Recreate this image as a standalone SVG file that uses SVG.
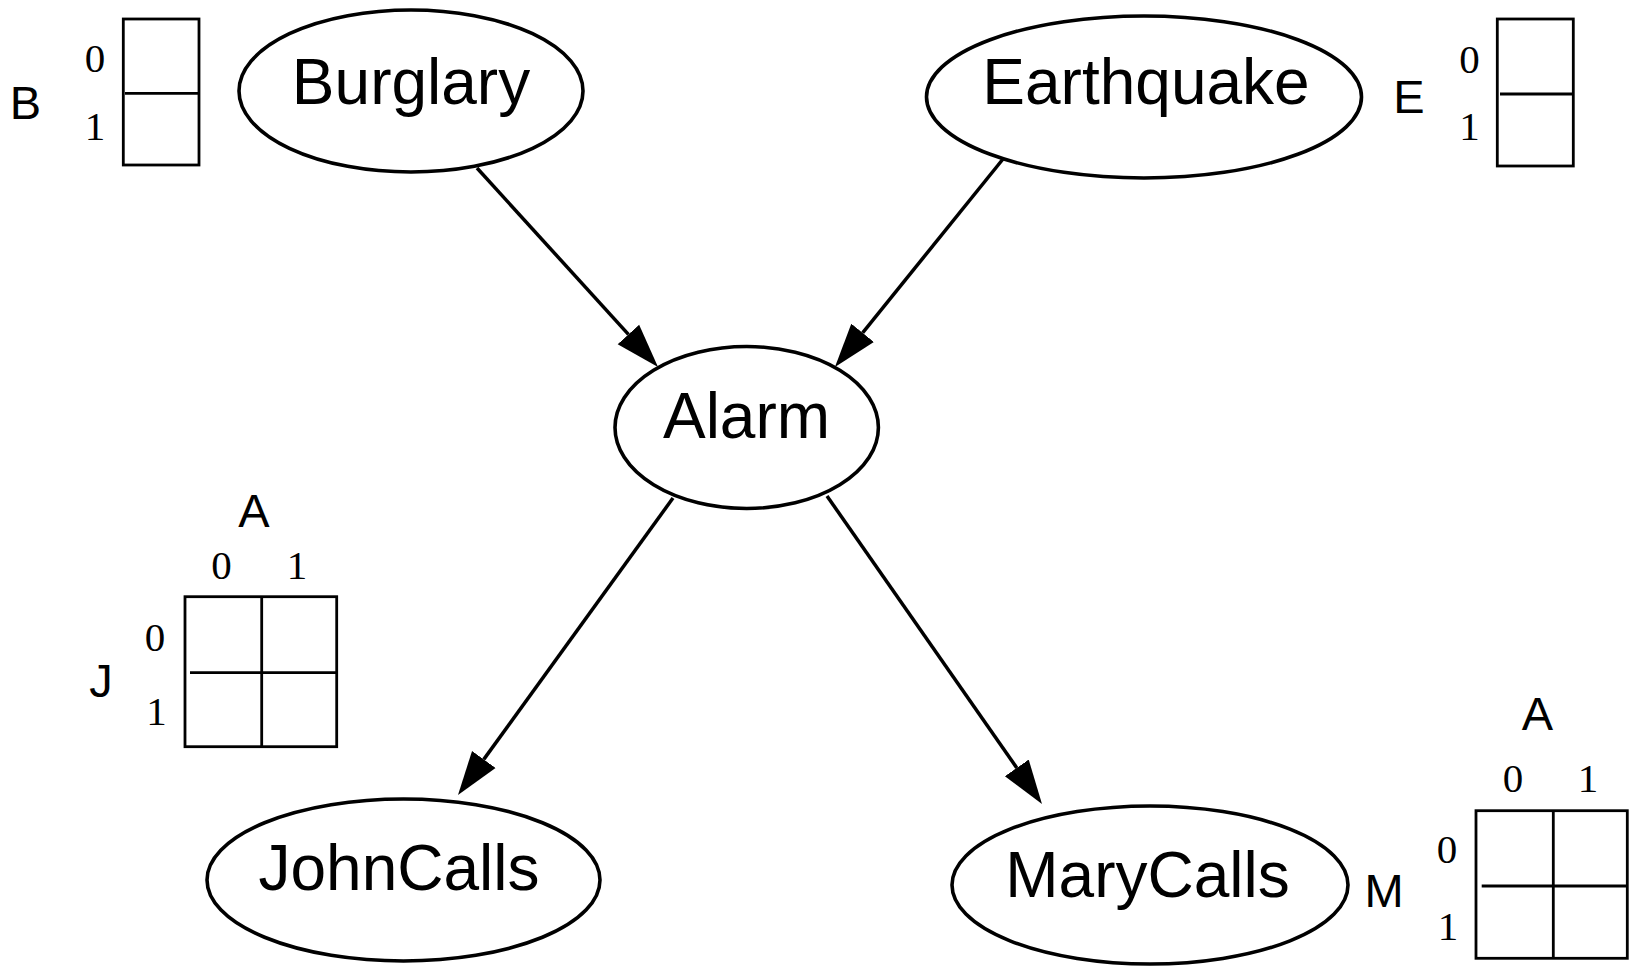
<svg xmlns="http://www.w3.org/2000/svg" width="1629" height="966" viewBox="0 0 1629 966">
<style>
.node ellipse{fill:#fff;stroke:#000;stroke-width:3.6}
.node text{font-family:"Liberation Sans",Arial,sans-serif;font-size:64px;text-anchor:middle;fill:#000}
.edge{stroke:#000;stroke-width:3.5;fill:none}
.lbl{font-family:"Liberation Sans",Arial,sans-serif;font-size:47px;text-anchor:middle;fill:#000}
.dig{font-family:"Liberation Serif","Times New Roman",serif;font-size:41px;text-anchor:middle;fill:#000}
.grid{fill:none;stroke:#000;stroke-width:2.8}
</style>
<defs>
<marker id="arr" markerUnits="userSpaceOnUse" markerWidth="46" markerHeight="32" refX="0" refY="16" orient="auto">
<path d="M0,1.5 L44,16 L0,30.5 Z" fill="#000"/>
</marker>
</defs>
<rect width="1629" height="966" fill="#fff"/>
<g id="connectors">
<line class="edge" x1="477" y1="168" x2="628.4" y2="334.4" marker-end="url(#arr)"/>
<line class="edge" x1="1003" y1="159" x2="862.6" y2="332.8" marker-end="url(#arr)"/>
<line class="edge" x1="673" y1="498" x2="483.8" y2="759.4" marker-end="url(#arr)"/>
<line class="edge" x1="827" y1="496" x2="1016.8" y2="767.9" marker-end="url(#arr)"/>
</g>
<g id="Burglary" class="node">
<ellipse cx="411" cy="91" rx="172" ry="81"/>
<text x="411" y="104">Burglary</text>
</g>
<g id="Earthquake" class="node">
<ellipse cx="1144" cy="97" rx="217.5" ry="81"/>
<text x="1146" y="104">Earthquake</text>
</g>
<g id="Alarm" class="node">
<ellipse cx="746.7" cy="427.5" rx="131.7" ry="81"/>
<text x="746.5" y="438">Alarm</text>
</g>
<g id="JohnCalls" class="node">
<ellipse cx="403.5" cy="880" rx="196.5" ry="81"/>
<text x="399" y="890">JohnCalls</text>
</g>
<g id="MaryCalls" class="node">
<ellipse cx="1150" cy="885" rx="198" ry="79"/>
<text x="1147.5" y="897">MaryCalls</text>
</g>
<g id="table-B">
<text class="lbl" x="25.5" y="119">B</text>
<text class="dig" x="95" y="72">0</text>
<text class="dig" x="95" y="140">1</text>
<rect class="grid" x="123.3" y="19" width="75.7" height="146"/>
<line class="grid" x1="125" y1="93.3" x2="199" y2="93.3"/>
</g>
<g id="table-E">
<text class="lbl" x="1409" y="113">E</text>
<text class="dig" x="1469.5" y="72.5">0</text>
<text class="dig" x="1469.5" y="140">1</text>
<rect class="grid" x="1497.3" y="19" width="76" height="147"/>
<line class="grid" x1="1500" y1="94" x2="1573.3" y2="94"/>
</g>
<g id="table-J">
<text class="lbl" x="254" y="527">A</text>
<text class="dig" x="221.5" y="579">0</text>
<text class="dig" x="297" y="579">1</text>
<text class="lbl" x="101" y="697">J</text>
<text class="dig" x="155" y="650.5">0</text>
<text class="dig" x="156.5" y="725">1</text>
<rect class="grid" x="185" y="596.7" width="151.7" height="150"/>
<line class="grid" x1="261.7" y1="596.7" x2="261.7" y2="746.7"/>
<line class="grid" x1="190" y1="672.7" x2="336.7" y2="672.7"/>
</g>
<g id="table-M">
<text class="lbl" x="1537.5" y="730">A</text>
<text class="dig" x="1513" y="792">0</text>
<text class="dig" x="1588" y="792">1</text>
<text class="lbl" x="1384" y="907">M</text>
<text class="dig" x="1447" y="863">0</text>
<text class="dig" x="1448" y="940">1</text>
<rect class="grid" x="1476" y="810.7" width="151.3" height="147.6"/>
<line class="grid" x1="1553.3" y1="810.7" x2="1553.3" y2="958.3"/>
<line class="grid" x1="1481.7" y1="886" x2="1627.3" y2="886"/>
</g>
</svg>
